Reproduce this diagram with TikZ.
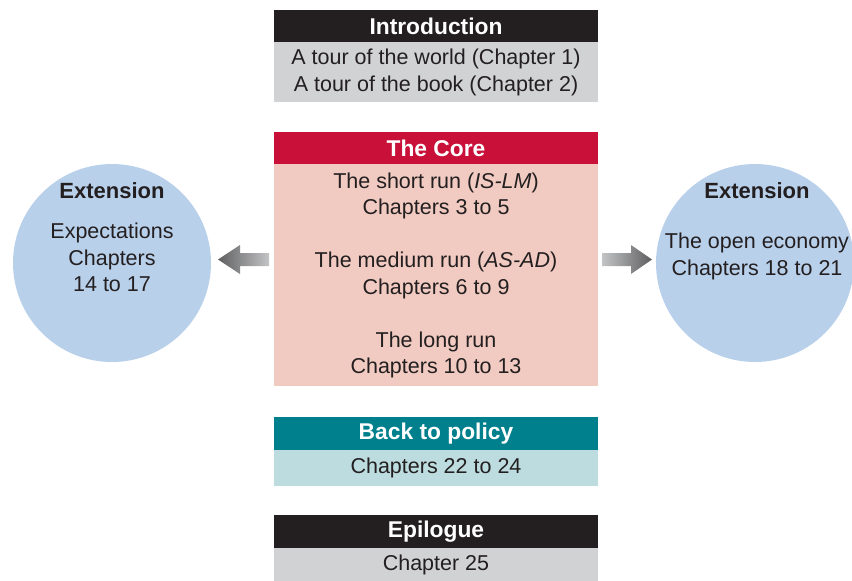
\documentclass[tikz,border=0pt]{standalone}
\usepackage{fontspec}
\setmainfont{Liberation Sans}
\definecolor{txt}{RGB}{35,31,32}
\definecolor{hdrblack}{RGB}{35,31,32}
\definecolor{lgray}{RGB}{209,210,212}
\definecolor{corered}{RGB}{200,16,56}
\definecolor{corepink}{RGB}{241,203,193}
\definecolor{teal}{RGB}{0,128,140}
\definecolor{lteal}{RGB}{189,220,223}
\definecolor{circ}{RGB}{185,208,235}
\definecolor{arrdark}{RGB}{95,95,97}
\definecolor{arrlight}{RGB}{195,196,198}
\begin{document}
\begin{tikzpicture}[x=1pt,y=-1pt]
\useasboundingbox (0,0) rectangle (852,581);
\tikzset{
  hdr/.style={minimum width=324pt, minimum height=32pt, inner sep=0pt, anchor=north,
    font=\fontsize{22.8}{26}\selectfont\bfseries, text=white},
  bodybox/.style={minimum width=324pt, inner sep=0pt, anchor=north, align=center,
    font=\fontsize{21.5}{26.5}\selectfont, text=txt},
  circbg/.style={circle, fill=circ, minimum size=198pt, inner sep=0pt},
  circhdr/.style={font=\fontsize{22}{26}\selectfont\bfseries, text=txt, inner sep=0pt},
  circtxt/.style={font=\fontsize{21.5}{26.5}\selectfont, text=txt, align=center, inner sep=0pt},
  blockarrow/.style={draw=none}
}
% Introduction
\node[hdr, fill=hdrblack] (introH) at (436,10) {Introduction};
\node[bodybox, fill=lgray, minimum height=60pt] (introB) at (436,42)
  {A tour of the world (Chapter 1)\\A tour of the book (Chapter 2)};
% Core
\node[hdr, fill=corered] (coreH) at (436,132) {The Core};
\node[bodybox, fill=corepink, minimum height=222pt] (coreB) at (436,164)
  {The short run (\textit{IS-LM})\\Chapters 3 to 5\\[26.5pt]
   The medium run (\textit{AS-AD})\\Chapters 6 to 9\\[26.5pt]
   The long run\\Chapters 10 to 13};
% Back to policy
\node[hdr, fill=teal, minimum height=33pt] (polH) at (436,417) {Back to policy};
\node[bodybox, fill=lteal, minimum height=36pt] (polB) at (436,450) {Chapters 22 to 24};
% Epilogue
\node[hdr, fill=hdrblack, minimum height=33pt] (epiH) at (436,515) {Epilogue};
\node[bodybox, fill=lgray, minimum height=33pt] (epiB) at (436,548) {Chapter 25};
% Left extension
\node[circbg] (extL) at (112,263) {};
\node[circhdr] (extLH) at (112,191) {Extension};
\node[circtxt] (extLB) at (112,257.5) {Expectations\\Chapters\\14 to 17};
% Right extension
\node[circbg] (extR) at (755,263) {};
\node[circhdr] (extRH) at (757,191) {Extension};
\node[circtxt] (extRB) at (757,256.5) {The open economy\\Chapters 18 to 21};
% Block arrows
\shade[blockarrow, left color=arrdark, right color=arrlight]
  (218,259.5) -- (240,245) -- (240,253) -- (269,253) -- (269,266) -- (240,266)
  -- (240,274) -- cycle;
\shade[blockarrow, left color=arrlight, right color=arrdark]
  (602,253) -- (631,253) -- (631,245) -- (652,259.5) -- (631,274) -- (631,266)
  -- (602,266) -- cycle;
\end{tikzpicture}
\end{document}
